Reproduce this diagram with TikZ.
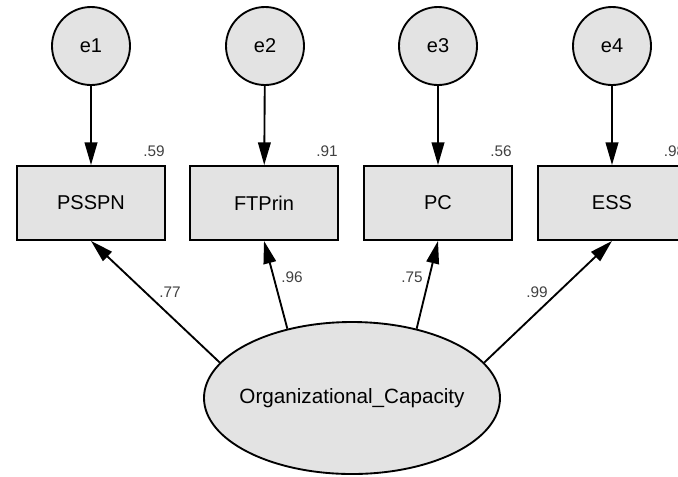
\documentclass[tikz,border=0pt]{standalone}
\usepackage{fontspec}
\setmainfont{Liberation Sans}
\usetikzlibrary{arrows.meta,shapes.geometric}

\tikzset{every picture/.style={line width=1.4pt}}
\tikzset{
  errnode/.style={circle,draw,fill=black!11,minimum size=58.5pt,inner sep=0pt,font=\fontsize{15}{17}\selectfont},
  obsnode/.style={rectangle,draw,fill=black!11,minimum width=111pt,minimum height=55.5pt,inner sep=0pt,font=\fontsize{15}{17}\selectfont},
  latnode/.style={ellipse,draw,fill=black!11,minimum width=222pt,minimum height=114pt,inner sep=0pt,font=\fontsize{15.5}{17}\selectfont},
  coef/.style={inner sep=0.75pt,text=black!75,font=\fontsize{11.5}{13}\selectfont},
  path/.style={-{Triangle[length=17pt,width=9.5pt]}},
}

\begin{document}
\begin{tikzpicture}[x=0.75pt,y=0.75pt,yscale=-1,xscale=1]
\useasboundingbox (0,0) rectangle (678,476);
% Error circles
\node [errnode] (e1) at (91,46) {e1};
\node [errnode] (e2) at (265,46) {e2};
\node [errnode] (e3) at (438,46) {e3};
\node [errnode] (e4) at (612,46) {e4};
% Observed variables
\node [obsnode] (psspn) at (91,203) {PSSPN};
\node [obsnode] (ftprin) at (264,203) {FTPrin};
\node [obsnode] (pc) at (438,203) {PC};
\node [obsnode] (ess) at (612,203) {ESS};
% Latent variable
\node [latnode] (orgcap) at (352,398) {\makebox[0pt]{Organizational\_Capacity}};

% Error paths
\draw [path] (e1) -- (psspn);
\draw [path] (e2) -- (ftprin);
\draw [path] (e3) -- (pc);
\draw [path] (e4) -- (ess);

% Loadings
\draw [path] (orgcap.165) -- (psspn.south);
\draw [path] (orgcap.133) -- (ftprin.south);
\draw [path] (orgcap.47) -- (pc.south);
\draw [path] (orgcap.15) -- (ess.south);

% Text Node
\node [coef] (r1) at (154,151) {.59};
\node [coef] (r2) at (327,151) {.91};
\node [coef] (r3) at (501,151) {.56};
\node [coef,anchor=west] (r4) at (662,151) {.98};
\node [coef] (l1) at (170,292) {.77};
\node [coef] (l2) at (292,277) {.96};
\node [coef] (l3) at (412,277) {.75};
\node [coef] (l4) at (537,292) {.99};
\end{tikzpicture}
\end{document}
